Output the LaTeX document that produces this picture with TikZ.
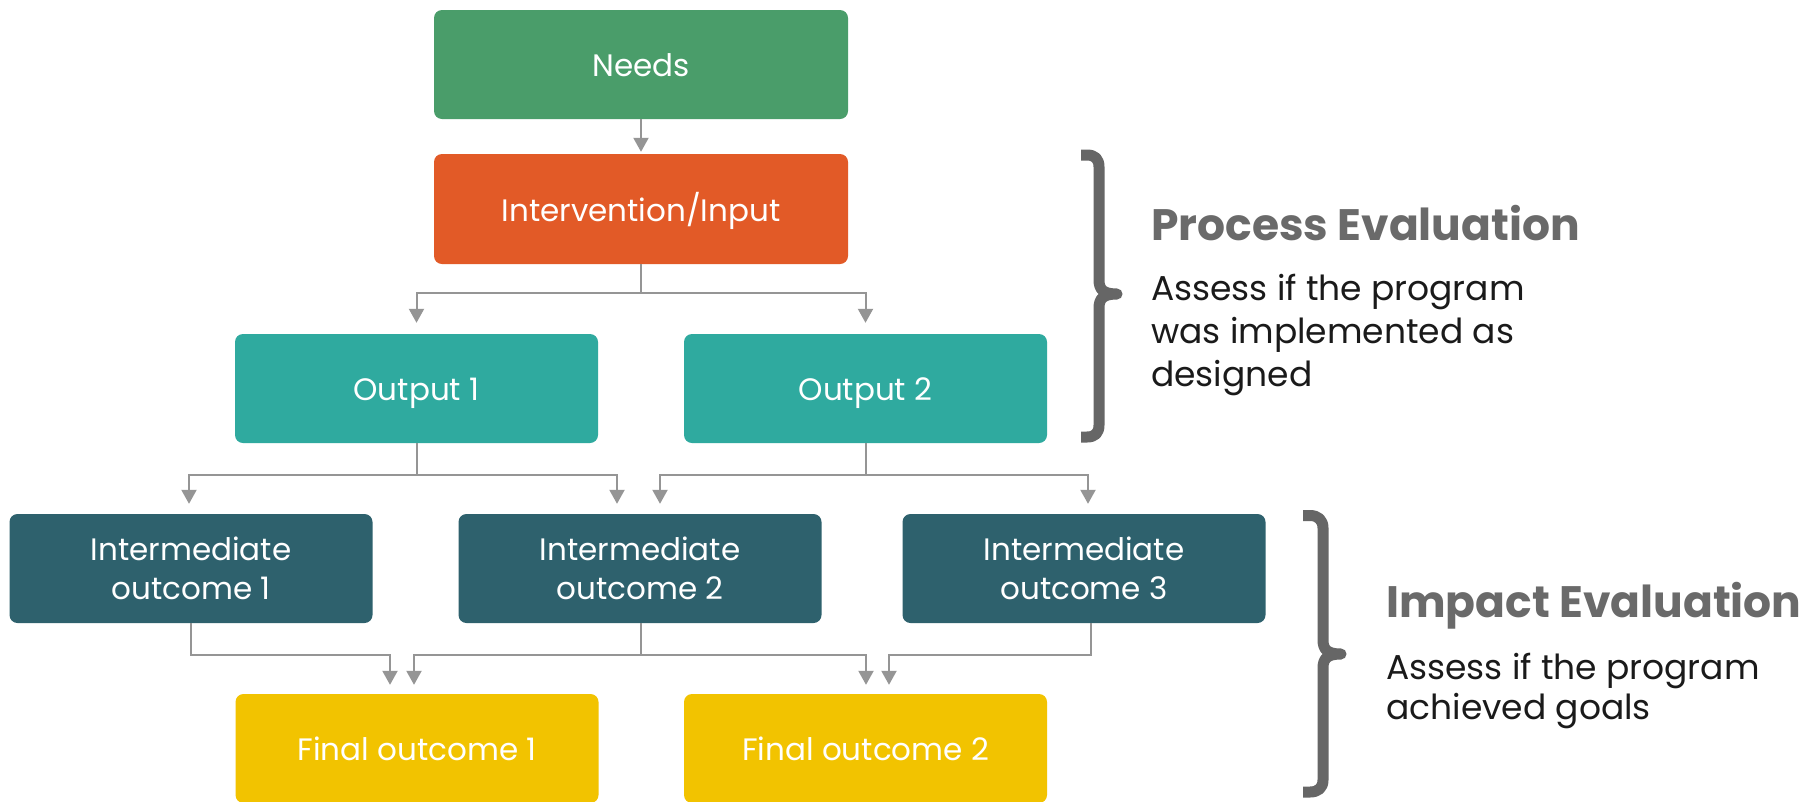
\documentclass[tikz,border=0pt]{standalone}
\usepackage{fontspec}
\setmainfont{Poppins}
\usetikzlibrary{arrows.meta,calc}
\definecolor{cneed}{HTML}{4A9D6A}
\definecolor{cint}{HTML}{E25A27}
\definecolor{cout}{HTML}{2FAA9F}
\definecolor{cio}{HTML}{2E616D}
\definecolor{cfin}{HTML}{F2C300}
\definecolor{cgray}{HTML}{959595}
\definecolor{cbrace}{HTML}{666666}
\definecolor{chead}{HTML}{6A6A6A}
\definecolor{cbody}{HTML}{1A1A1A}
\begin{document}
\begin{tikzpicture}[x=1pt,y=-1pt,
  box/.style={rounded corners=8pt, minimum width=363pt, minimum height=109pt, inner sep=0pt,
    text=white, font=\fontsize{31}{38.5}\selectfont, align=center},
  oneline/.style={text height=26pt, text depth=1.4pt},
  ln/.style={draw=cgray, line width=2pt},
  arr/.style={ln, -{Triangle[width=15pt,length=14pt]}},
  bracestyle/.style={draw=cbrace, line width=11pt, line join=round},
  head/.style={anchor=base west, inner sep=0pt, text=chead, font=\fontsize{44}{52}\selectfont\bfseries},
  body/.style={anchor=base west, inner sep=0pt, text=cbody, font=\fontsize{34.5}{41}\selectfont}]
\useasboundingbox (0,0) rectangle (1810,801);
\fill[white] (0,0) rectangle (1810,801);
% boxes
\node[box, oneline, fill=cneed, minimum width=414pt] (needs) at (641,64.5) {Needs};
\node[box, oneline, fill=cint, minimum width=414pt, minimum height=110pt] (int) at (641,209) {Intervention/Input};
\node[box, oneline, fill=cout] (o1) at (416.5,388.5) {Output 1};
\node[box, oneline, fill=cout] (o2) at (865.5,388.5) {Output 2};
\node[box, fill=cio] (io1) at (191,568.5) {Intermediate\\outcome 1};
\node[box, fill=cio] (io2) at (640,568.5) {Intermediate\\outcome 2};
\node[box, fill=cio] (io3) at (1084,568.5) {Intermediate\\outcome 3};
\node[box, oneline, fill=cfin] (f1) at (417,748.5) {Final outcome 1};
\node[box, oneline, fill=cfin] (f2) at (865.5,748.5) {Final outcome 2};
% connectors
\draw[arr, shorten >=2pt] (needs) -- (int);
\draw[arr, shorten >=11pt] (int.south) -- ++(0,29) -| (o1.north);
\draw[arr, shorten >=11pt] (int.south) -- ++(0,29) -| (o2.north);
\draw[arr, shorten >=10pt] (o1.south) -- ++(0,32) -| ([xshift=-2pt]io1.north);
\draw[arr, shorten >=10pt] (o1.south) -- ++(0,32) -| ([xshift=-23pt]io2.north);
\draw[arr, shorten >=10pt] (o2.south) -- ++(0,32) -| ([xshift=20pt]io2.north);
\draw[arr, shorten >=10pt] (o2.south) -- ++(0,32) -| ([xshift=4pt]io3.north);
\draw[arr, shorten >=9pt] (io1.south) -- ++(0,32) -| ([xshift=-27pt]f1.north);
\draw[arr, shorten >=9pt] ([xshift=1pt]io2.south) -- ++(0,32) -| ([xshift=-3pt]f1.north);
\draw[arr, shorten >=9pt] ([xshift=1pt]io2.south) -- ++(0,32) -| ([xshift=0.5pt]f2.north);
\draw[arr, shorten >=9pt] ([xshift=7pt]io3.south) -- ++(0,32) -| ([xshift=23.5pt]f2.north);
% braces
\draw[bracestyle] (1081,155) -- (1087,155) .. controls (1095,155) and (1099,159) .. (1099,167)
  -- (1099,280) .. controls (1099,290) and (1104,294) .. (1117,294)
  .. controls (1104,294) and (1099,298) .. (1099,308)
  -- (1099,425) .. controls (1099,433) and (1095,437) .. (1087,437) -- (1081,437);
\draw[bracestyle] (1303,515.5) -- (1310,515.5) .. controls (1318,515.5) and (1323,520) .. (1323,528)
  -- (1323,640) .. controls (1323,650) and (1328,654) .. (1341,654)
  .. controls (1328,654) and (1323,658) .. (1323,668)
  -- (1323,780) .. controls (1323,788) and (1318,792) .. (1310,792) -- (1303,792);
% texts
\node[head] (pe) at (1151,240) {Process Evaluation};
\node[body] (pd1) at (1151,300) {Assess if the program};
\node[body] (pd2) at (1151,343.5) {was implemented as};
\node[body] (pd3) at (1151,386) {designed};
\node[head] (ie) at (1386,617) {Impact Evaluation};
\node[body] (id1) at (1386,679) {Assess if the program};
\node[body] (id2) at (1386,719) {achieved goals};
\end{tikzpicture}
\end{document}
